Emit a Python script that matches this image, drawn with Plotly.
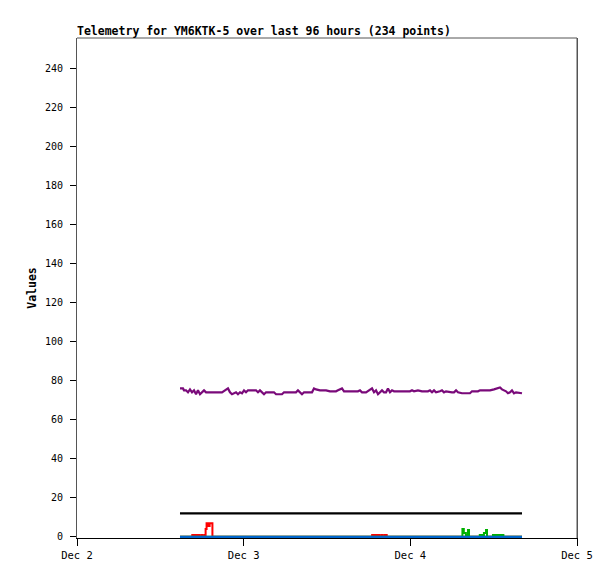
import pandas as pd
import plotly.graph_objects as go

# hours after Dec 2 00:00
purple_h = [14.83, 15.26, 15.41, 15.70, 15.98, 16.27, 16.56, 16.85, 17.14, 17.42, 17.71, 18.0, 18.29, 18.58,
            20.59, 20.88, 21.74, 22.03, 22.32, 22.9, 23.18, 23.47, 23.76, 24.05, 24.34, 24.62, 25.78, 26.06,
            26.35, 26.64, 26.93, 27.22, 28.37, 28.66, 29.52, 29.81, 31.54, 31.82, 32.11, 32.4, 32.69, 33.84,
            34.13, 34.42, 34.99, 35.86, 36.43, 37.3, 37.58, 38.16, 38.45, 40.46, 40.75, 41.04, 41.62, 42.48,
            42.77, 43.06, 43.34, 43.63, 43.92, 44.21, 44.5, 44.78, 45.07, 45.36, 45.65, 47.95, 48.24, 48.53,
            49.1, 49.68, 50.54, 50.83, 51.12, 51.41, 51.7, 52.27, 52.56, 52.85, 53.14, 54.0, 54.29, 54.58,
            54.86, 55.44, 56.59, 56.88, 57.74, 58.03, 59.47, 60.05, 60.62, 60.91, 61.2, 61.78, 62.06, 62.35,
            62.64, 62.93, 63.22, 64.08]
purple_v = [76, 76, 75, 75, 74, 75.5, 74, 75, 73, 75, 73, 74, 75, 74,
            74, 74, 76, 74, 73, 74, 73, 74, 73.5, 75, 74, 75, 75, 74,
            75, 74, 73, 74, 74, 73, 73, 74, 74, 75, 74, 73, 74, 74,
            76, 75.5, 75, 75, 74.5, 74.5, 75, 76, 74.5, 74.5, 75, 74, 74, 76,
            74, 75, 73, 74, 75, 74, 74, 76, 74, 75, 74.5, 74.5, 75, 74.5,
            75, 74.5, 74.5, 75, 74, 75, 74, 74.5, 75, 74, 74.5, 74, 74, 75,
            74, 73.5, 73.5, 74.5, 74.5, 75, 75, 75.5, 76, 76.5, 75.5, 74.5, 73.5, 74,
            75, 73.5, 74, 73.5]

black_h = [14.83, 30.0, 45.0, 64.08]
black_v = [12, 12, 12, 12]

blue_h = [14.83, 30.0, 45.0, 64.08]
blue_v = [0, 0, 0, 0]

red_h = [14.83, 16.4, 16.6, 16.8, 17.0, 17.2, 17.4, 17.6, 17.9, 18.1, 18.4, 18.52, 18.66, 18.8, 18.95,
         19.1, 19.37, 19.5, 42.3, 42.5, 42.7, 42.9, 43.1, 43.3, 43.5, 43.8, 44.0, 44.3, 44.6, 64.08]
red_v = [0, 0, 1, 0, 1, 0, 1, 0, 1, 0, 1, 4, 7, 7, 5.5,
         7, 7, 0, 0, 1, 0, 1, 0, 1, 0, 1, 0, 1, 0, 0]

green_h = [14.83, 55.0, 55.5, 55.7, 56.0, 56.3, 56.45, 58.0, 58.6, 58.9, 59.04, 59.9, 61.4, 64.08]
green_v = [0, 0, 4, 2, 1, 3.5, 0, 1, 2, 3.5, 0, 1, 0, 0]

x_tick_labels = ["Dec 2", "Dec 3", "Dec 4", "Dec 5"]
y_ticks = list(range(0, 241, 20))

base = pd.Timestamp("2023-12-02 00:00")
def t(hs):
    return [base + pd.Timedelta(hours=h) for h in hs]

fig = go.Figure()
fig.add_trace(go.Scatter(x=t(purple_h), y=purple_v, mode="lines",
                         line=dict(color="#7a0a7a", width=2.2)))
fig.add_trace(go.Scatter(x=t(black_h), y=black_v, mode="lines",
                         line=dict(color="black", width=2.2)))
fig.add_trace(go.Scatter(x=t(red_h), y=red_v, mode="lines",
                         line=dict(color="#ff0000", width=2, shape="hv")))
fig.add_trace(go.Scatter(x=t(green_h), y=green_v, mode="lines",
                         line=dict(color="#00b000", width=2, shape="hv")))
fig.add_trace(go.Scatter(x=t(blue_h), y=blue_v, mode="lines",
                         line=dict(color="#0066cc", width=2.2)))

tickvals = [base + pd.Timedelta(days=i) for i in range(4)]
mono = "DejaVu Sans Mono"
# page body has an 8px margin, so the figure is shifted and shrunk to compensate
fig.update_layout(
    width=607, height=571,
    margin=dict(l=69, r=38, t=30, b=41, autoexpand=False),
    paper_bgcolor="white", plot_bgcolor="white",
    showlegend=False,
    title=dict(text="<b>Telemetry for YM6KTK-5 over last 96 hours (234 points)</b>",
               x=69/607, xanchor="left", y=1 - 23/571, yanchor="middle",
               font=dict(family=mono, size=11.5, color="black")),
    font=dict(family=mono, size=10, color="black"),
)
fig.update_xaxes(type="date", range=[tickvals[0], tickvals[-1]],
                 tickvals=tickvals, ticktext=x_tick_labels,
                 showgrid=False, zeroline=False, showline=True, linecolor="black", linewidth=1,
                 ticks="outside", ticklen=7, tickcolor="black",
                 tickfont=dict(family=mono, size=10.5))
fig.update_yaxes(range=[-0.6, 255.4], tickvals=y_ticks,
                 showgrid=False, zeroline=False, showline=True, linecolor="#555555", linewidth=1,
                 mirror=True, ticks="outside", ticklen=6, tickcolor="black",
                 ticklabelstandoff=5,
                 tickfont=dict(family=mono, size=10),
                 title=dict(text="<b>Values</b>", standoff=5,
                            font=dict(family=mono, size=11.5)))
fig.add_shape(type="line", xref="paper", yref="paper", x0=0, x1=1, y0=1, y1=1,
              line=dict(color="#555555", width=1))
fig.add_shape(type="line", xref="paper", yref="paper", x0=1, x1=1, y0=0, y1=1,
              line=dict(color="#555555", width=1))
fig.write_html("out.html")
